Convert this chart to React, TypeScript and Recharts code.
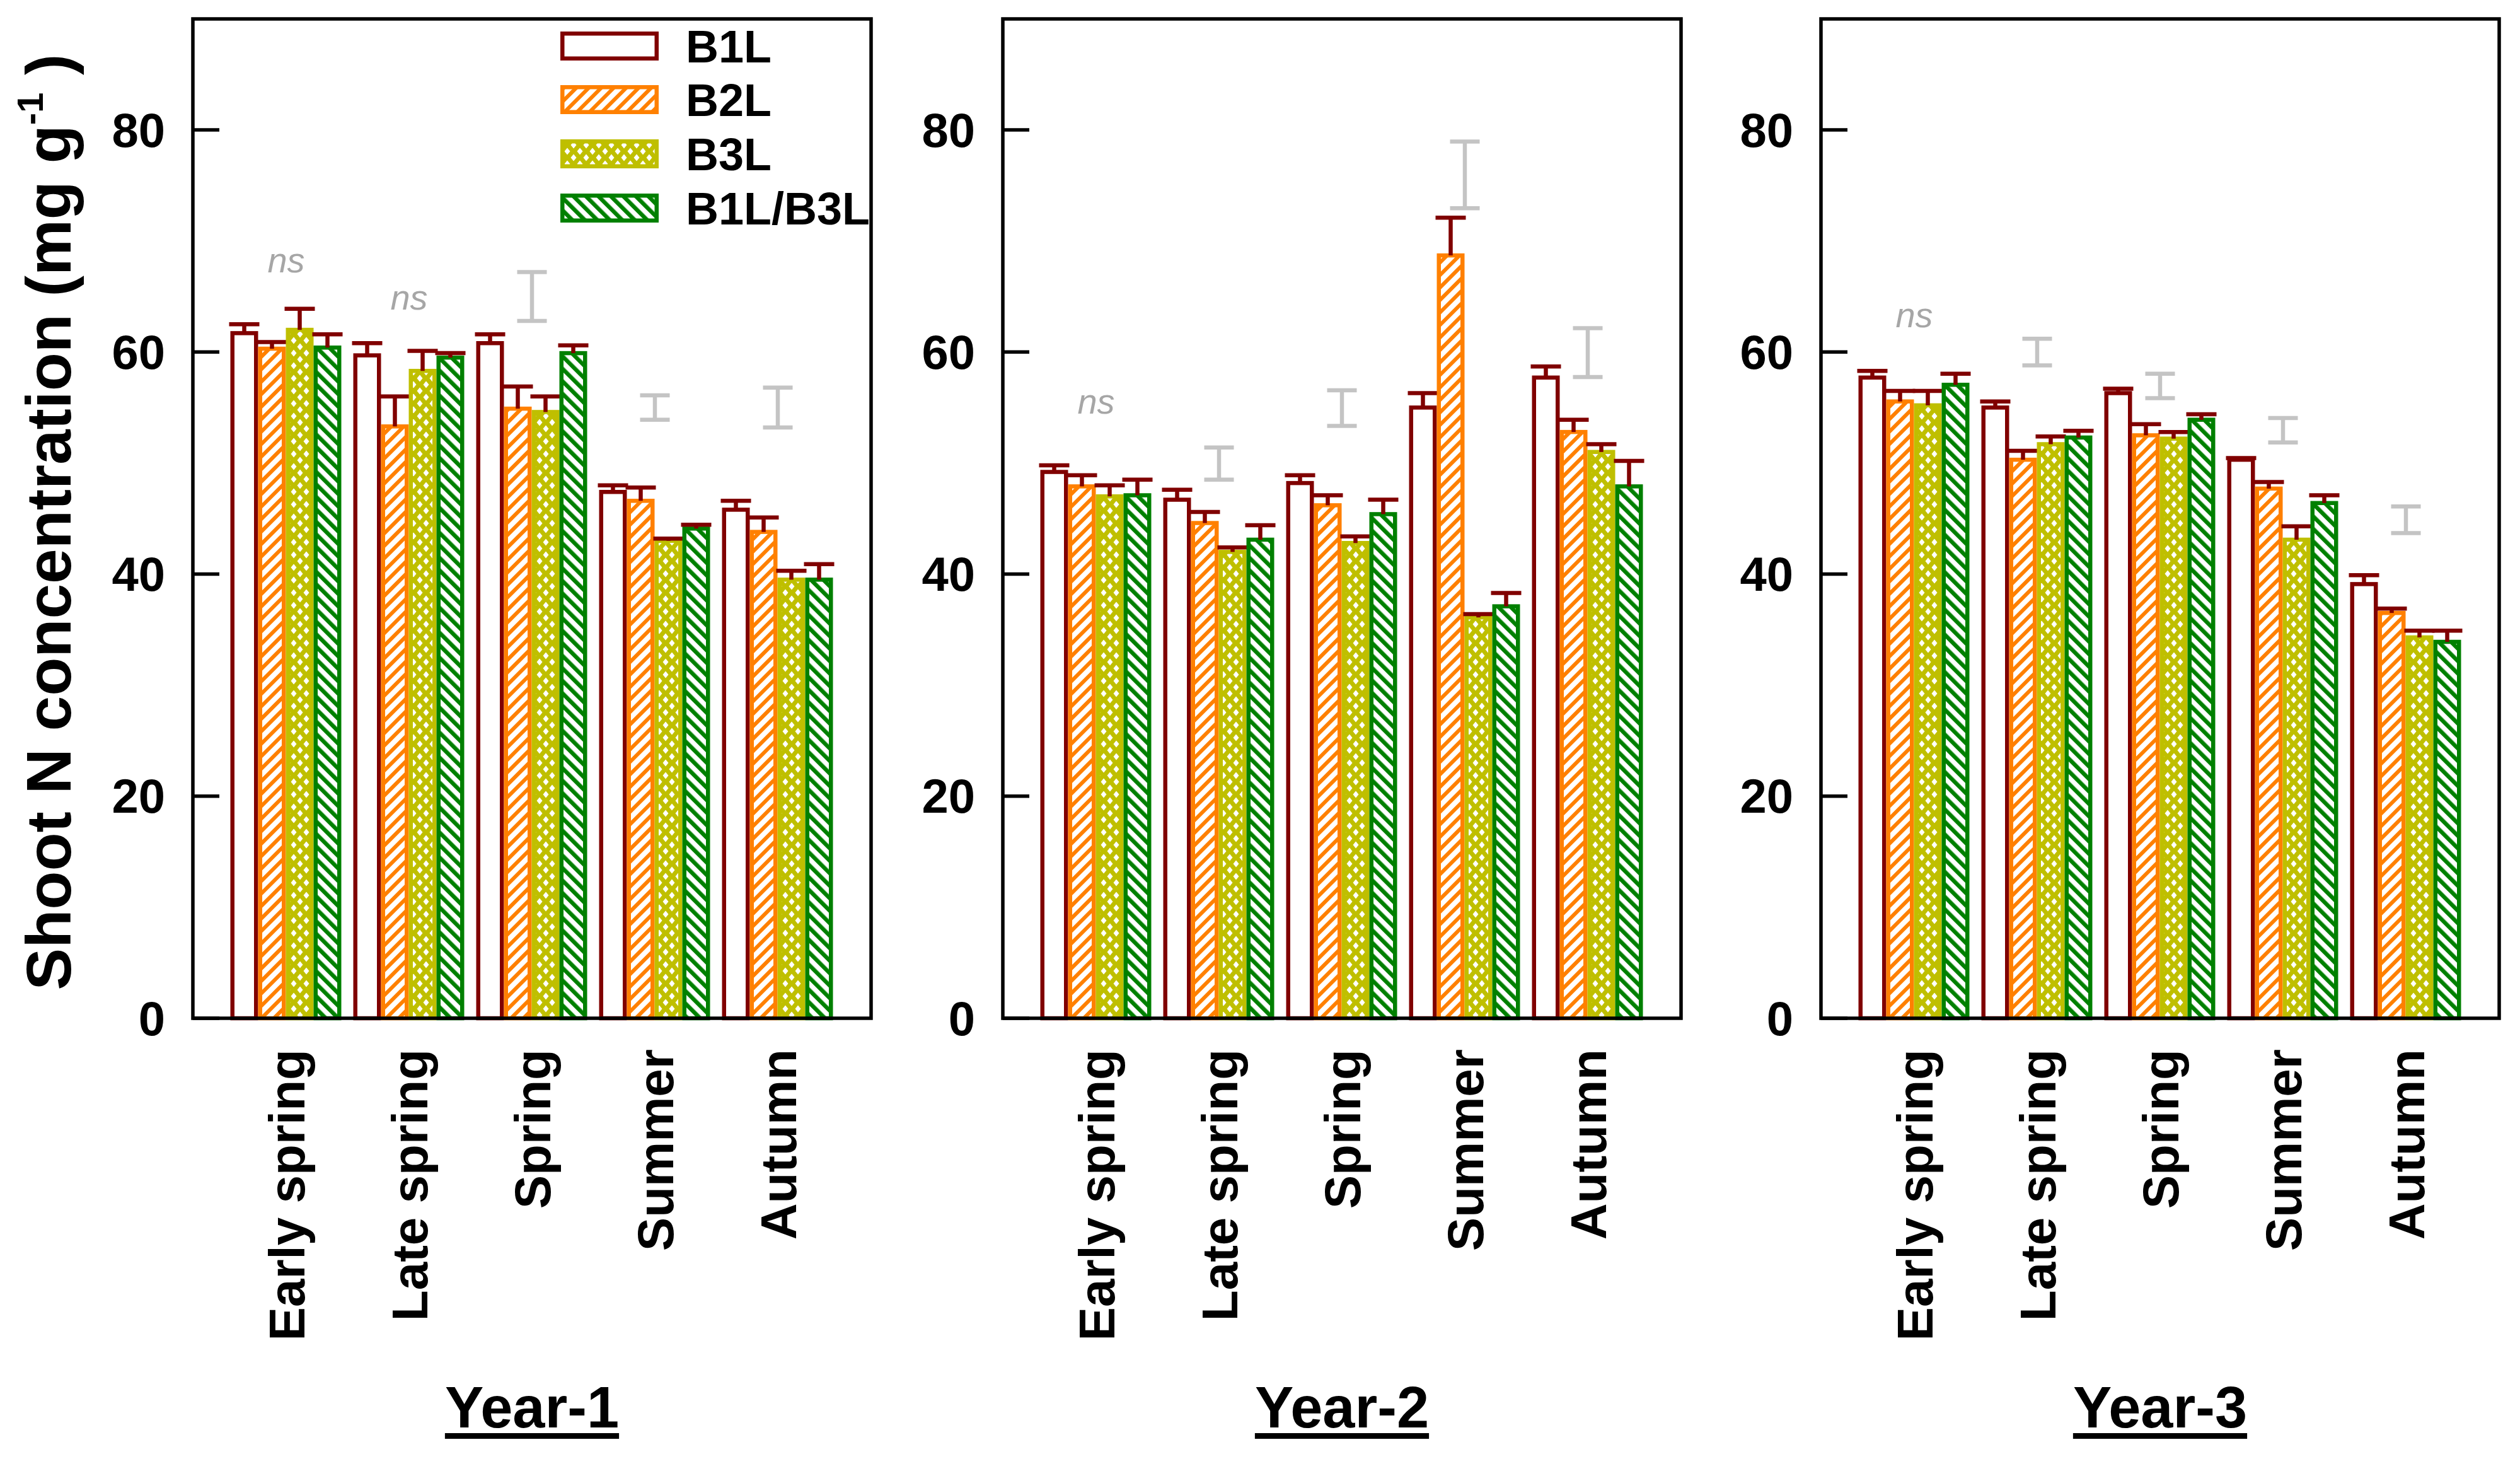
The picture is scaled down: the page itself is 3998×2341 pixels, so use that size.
import React from 'react';
import { ComposedChart, Bar, Scatter, ErrorBar, XAxis, YAxis } from 'recharts';

const CATEGORIES = ['Early spring', 'Late spring', 'Spring', 'Summer', 'Autumn'];
const SERIES = ['B1L', 'B2L', 'B3L', 'B1L/B3L'];
const Y_TICKS = [0, 20, 40, 60, 80];

// Year-1 (means, then SE)
const Y1_B1L = [61.7, 59.7, 60.8, 47.4, 45.8];
const Y1_B1L_SE = [0.8, 1.1, 0.8, 0.6, 0.8];
const Y1_B2L = [60.3, 53.3, 54.9, 46.6, 43.8];
const Y1_B2L_SE = [0.6, 2.7, 2.0, 1.2, 1.3];
const Y1_B3L = [62.0, 58.3, 54.6, 43.0, 39.5];
const Y1_B3L_SE = [1.9, 1.8, 1.4, 0.2, 0.8];
const Y1_MIX = [60.4, 59.5, 59.9, 44.1, 39.5];
const Y1_MIX_SE = [1.2, 0.4, 0.7, 0.35, 1.4];
const Y1_NS = [68.0, 64.7, null, null, null];
const Y1_LSD_MID = [null, null, 65.0, 55.0, 55.0];
const Y1_LSD_HALF = [null, null, 2.2, 1.1, 1.8];

// Year-2
const Y2_B1L = [49.2, 46.7, 48.2, 55.0, 57.7];
const Y2_B1L_SE = [0.6, 0.9, 0.7, 1.3, 1.0];
const Y2_B2L = [47.9, 44.6, 46.2, 68.7, 52.8];
const Y2_B2L_SE = [1.0, 1.0, 0.9, 3.4, 1.1];
const Y2_B3L = [47.0, 42.0, 42.8, 36.1, 51.0];
const Y2_B3L_SE = [1.0, 0.4, 0.6, 0.3, 0.7];
const Y2_MIX = [47.1, 43.1, 45.4, 37.1, 47.9];
const Y2_MIX_SE = [1.4, 1.3, 1.3, 1.2, 2.3];
const Y2_NS = [55.3, null, null, null, null];
const Y2_LSD_MID = [null, 49.95, 54.95, 75.95, 59.95];
const Y2_LSD_HALF = [null, 1.45, 1.6, 3.0, 2.2];

// Year-3
const Y3_B1L = [57.7, 55.0, 56.3, 50.3, 39.1];
const Y3_B1L_SE = [0.6, 0.55, 0.4, 0.15, 0.8];
const Y3_B2L = [55.55, 50.3, 52.5, 47.7, 36.5];
const Y3_B2L_SE = [0.95, 0.8, 1.0, 0.6, 0.4];
const Y3_B3L = [55.2, 51.7, 52.2, 43.1, 34.3];
const Y3_B3L_SE = [1.3, 0.7, 0.6, 1.2, 0.6];
const Y3_MIX = [57.05, 52.3, 53.9, 46.4, 33.9];
const Y3_MIX_SE = [1.0, 0.6, 0.5, 0.7, 1.0];
const Y3_NS = [63.1, null, null, null, null];
const Y3_LSD_MID = [null, 60.0, 56.95, 52.95, 44.9];
const Y3_LSD_HALF = [null, 1.2, 1.1, 1.1, 1.2];

const FONT = '"Liberation Sans", Arial, sans-serif';
const DARK_RED = '#800000';
const ORANGE = '#FF8000';
const OLIVE = '#BFBF00';
const GREEN = '#008000';
const LSD_GREY = '#C4C4C4';
const NS_GREY = '#A6A6A6';
const SW = 5.5; // frame / tick width
const BW = 6.5; // bar outline / whisker width

const STROKES = [DARK_RED, ORANGE, OLIVE, GREEN];
const FILLS = ['#ffffff', 'url(#pat-b2l)', 'url(#pat-b3l)', 'url(#pat-mix)'];

const buildData = (cols: any[][], ns: any[], lsdMid: any[], lsdHalf: any[]) =>
  CATEGORIES.map((cat, i) => ({
    cat,
    s0: cols[0][i], e0: cols[1][i],
    s1: cols[2][i], e1: cols[3][i],
    s2: cols[4][i], e2: cols[5][i],
    s3: cols[6][i], e3: cols[7][i],
    ns: ns[i],
    lsdMid: lsdMid[i],
    lsdHalf: lsdHalf[i],
  }));

const PANELS = [
  {
    year: 'Year-1',
    left: 306,
    data: buildData([Y1_B1L, Y1_B1L_SE, Y1_B2L, Y1_B2L_SE, Y1_B3L, Y1_B3L_SE, Y1_MIX, Y1_MIX_SE], Y1_NS, Y1_LSD_MID, Y1_LSD_HALF),
  },
  {
    year: 'Year-2',
    left: 1591,
    data: buildData([Y2_B1L, Y2_B1L_SE, Y2_B2L, Y2_B2L_SE, Y2_B3L, Y2_B3L_SE, Y2_MIX, Y2_MIX_SE], Y2_NS, Y2_LSD_MID, Y2_LSD_HALF),
  },
  {
    year: 'Year-3',
    left: 2889,
    data: buildData([Y3_B1L, Y3_B1L_SE, Y3_B2L, Y3_B2L_SE, Y3_B3L, Y3_B3L_SE, Y3_MIX, Y3_MIX_SE], Y3_NS, Y3_LSD_MID, Y3_LSD_HALF),
  },
];

const PLOT_TOP = 30;
const PLOT_W = 1076;
const PLOT_H = 1585;
const Y_AXIS_W = 300;
const X_AXIS_H = 560;

// bar with inset outline plus an upward-only SE whisker
const barShape = (idx: number) => (props: any) => {
  const { x, y, width, height, payload } = props;
  const v = payload['s' + idx];
  const e = payload['e' + idx];
  const k = v ? height / v : 0;
  const cx = x + width / 2;
  const ey = y - e * k;
  return (
    <g>
      <rect x={x + BW / 2} y={y} width={width - BW} height={height} fill={FILLS[idx]} stroke={STROKES[idx]} strokeWidth={BW} />
      <line x1={cx} x2={cx} y1={y} y2={ey} stroke={DARK_RED} strokeWidth={BW} />
      <line x1={cx - 24} x2={cx + 24} y1={ey} y2={ey} stroke={DARK_RED} strokeWidth={BW} />
    </g>
  );
};

const CatTick = (props: any) => {
  const { x, y, payload } = props;
  return (
    <text
      x={x}
      y={y}
      transform={`rotate(-90, ${x}, ${y})`}
      textAnchor="end"
      dy="0.36em"
      fontSize={80}
      fontWeight="bold"
      fontFamily={FONT}
      fill="#000"
    >
      {payload.value}
    </text>
  );
};

const YTick = (props: any) => {
  const { x, y, payload } = props;
  return (
    <g>
      <line x1={x + 44} x2={x + 86} y1={y} y2={y} stroke="#000" strokeWidth={SW} />
      <text x={x} y={y} textAnchor="end" dominantBaseline="central" fontSize={76} fontWeight="bold" fontFamily={FONT} fill="#000">
        {payload.value}
      </text>
    </g>
  );
};

const nsShape = (props: any) => {
  const { cx, cy, payload } = props;
  if (payload == null || payload.ns == null) return <g />;
  return (
    <text x={cx} y={cy} dy={15} textAnchor="middle" fontSize={56} fontStyle="italic" fontFamily={FONT} fill={NS_GREY}>
      ns
    </text>
  );
};

const Panel = ({ panel }: any) => (
  <div style={{ position: 'absolute', left: panel.left - Y_AXIS_W, top: 0 }}>
    <ComposedChart
      width={Y_AXIS_W + PLOT_W + 10}
      height={PLOT_TOP + PLOT_H + X_AXIS_H}
      data={panel.data}
      margin={{ top: PLOT_TOP, right: 10, bottom: 0, left: 0 }}
      barCategoryGap={9}
      barGap={0}
    >
      <XAxis
        dataKey="cat"
        type="category"
        interval={0}
        height={X_AXIS_H}
        axisLine={false}
        tickLine={false}
        tickSize={0}
        tickMargin={49}
        padding={{ left: 50.5, right: 50.5 }}
        tick={(p: any) => <CatTick {...p} />}
      />
      <YAxis
        type="number"
        domain={[0, 90]}
        ticks={Y_TICKS}
        interval={0}
        width={Y_AXIS_W}
        axisLine={false}
        tickLine={false}
        tickSize={0}
        tickMargin={44}
        tick={(p: any) => <YTick {...p} />}
      />
      {SERIES.map((name, i) => (
        <Bar key={name} dataKey={'s' + i} name={name} fill={STROKES[i]} shape={barShape(i)} isAnimationActive={false} />
      ))}
      <Scatter dataKey="lsdMid" isAnimationActive={false} shape={() => <g />}>
        <ErrorBar dataKey="lsdHalf" direction="y" width={23.5} stroke={LSD_GREY} strokeWidth={6.5} />
      </Scatter>
      <Scatter dataKey="ns" isAnimationActive={false} shape={nsShape} />
    </ComposedChart>
  </div>
);

const LEGEND_ROWS_TOP = [50, 135, 221, 307];

export default function App() {
  return (
    <div style={{ position: 'absolute', left: 0, top: 0, width: 3998, height: 2341, background: '#fff', fontFamily: FONT }}>
      <svg width={0} height={0} style={{ position: 'absolute' }}>
        <defs>
          <pattern id="pat-b2l" patternUnits="userSpaceOnUse" width={14} height={14} patternTransform="rotate(45)">
            <rect width={14} height={14} fill="#fff" />
            <rect width={6} height={14} fill={ORANGE} />
          </pattern>
          <pattern id="pat-mix" patternUnits="userSpaceOnUse" width={14} height={14} patternTransform="rotate(-45)">
            <rect width={14} height={14} fill="#fff" />
            <rect width={6.5} height={14} fill={GREEN} />
          </pattern>
          <pattern id="pat-b3l" patternUnits="userSpaceOnUse" width={20} height={20}>
            <rect width={20} height={20} fill={OLIVE} />
            {[[10, 10], [0, 0], [20, 0], [0, 20], [20, 20]].map(([cx, cy], i) => (
              <polygon key={i} points={`${cx},${cy - 5.5} ${cx + 4.5},${cy} ${cx},${cy + 5.5} ${cx - 4.5},${cy}`} fill="#fff" />
            ))}
          </pattern>
        </defs>
      </svg>

      {PANELS.map((p) => (
        <Panel key={p.year} panel={p} />
      ))}

      <svg width={3998} height={2341} style={{ position: 'absolute', left: 0, top: 0, pointerEvents: 'none' }}>
        {PANELS.map((p) => (
          <rect key={p.year} x={p.left} y={PLOT_TOP} width={PLOT_W} height={PLOT_H} fill="none" stroke="#000" strokeWidth={SW} />
        ))}
        <text
          transform="translate(112, 828) rotate(-90)"
          textAnchor="middle"
          fontSize={100}
          fontWeight="bold"
          fontFamily={FONT}
          fill="#000"
        >
          Shoot N concentration (mg g
          <tspan dy={-44} fontSize={58}>-1</tspan>
          <tspan dy={44}> )</tspan>
        </text>
        {SERIES.map((name, i) => (
          <g key={name}>
            <rect
              x={889 + BW / 2}
              y={LEGEND_ROWS_TOP[i] + BW / 2}
              width={156 - BW}
              height={46 - BW}
              fill={FILLS[i]}
              stroke={STROKES[i]}
              strokeWidth={BW}
            />
            <text x={1088} y={LEGEND_ROWS_TOP[i] + 49} fontSize={72} fontWeight="bold" fontFamily={FONT} fill="#000">
              {name}
            </text>
          </g>
        ))}
      </svg>

      {PANELS.map((p) => (
        <div
          key={p.year}
          style={{
            position: 'absolute',
            left: p.left + PLOT_W / 2 - 300,
            width: 600,
            top: 2186,
            textAlign: 'center',
            fontSize: 92,
            lineHeight: '92px',
            fontWeight: 700,
            textDecoration: 'underline',
            textDecorationThickness: '9px',
            textUnderlineOffset: '9px',
            color: '#000',
          }}
        >
          {p.year}
        </div>
      ))}
    </div>
  );
}
